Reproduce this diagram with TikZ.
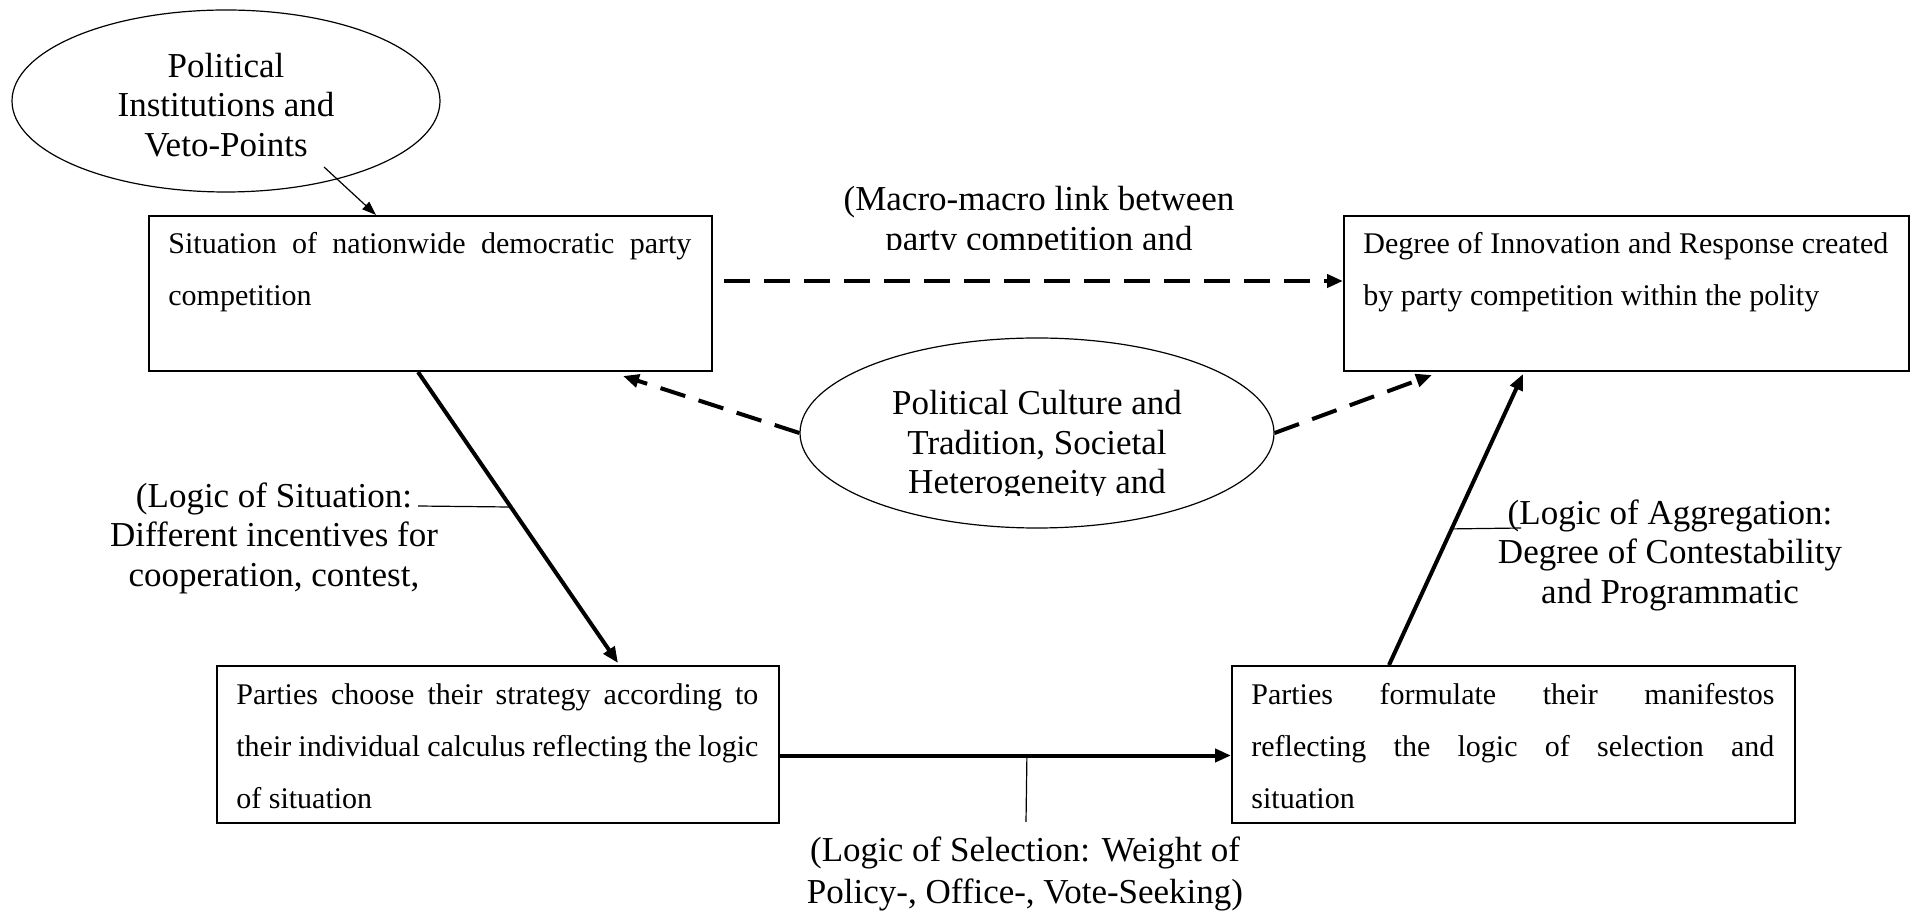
\documentclass[tikz,border=0pt]{standalone}
\usepackage{fontspec}
\setmainfont{Liberation Serif}
\usetikzlibrary{arrows.meta,calc,shapes.geometric}
\tolerance=9999
\hbadness=10000

\tikzset{
  box/.style={draw, line width=1pt, rectangle, inner sep=0pt, anchor=north west},
  boxtext/.style={anchor=north west, inner sep=0pt, text width=#1, align=justify,
    font=\fontsize{15}{26}\selectfont},
  oval/.style={draw, ellipse, line width=0.6pt, inner sep=0pt},
  lbl/.style={align=center, inner sep=0pt, font=\fontsize{17.5}{19.75}\selectfont},
  flow/.style={line width=2pt, -{Triangle[length=8pt,width=6.5pt]}},
  influence/.style={line width=2pt, dash pattern=on 13pt off 7pt,
    -{Triangle[length=8pt,width=6.5pt]}},
  fine/.style={line width=0.6pt},
  pointer/.style={line width=0.6pt, -{Triangle[length=7pt,width=5pt]}},
}

\begin{document}
\begin{tikzpicture}[x=0.5pt, y=-0.5pt]
\fill[white] (0,0) rectangle (1916,913);
\useasboundingbox (0,0) rectangle (1916,913);

% macro level boxes
\node[box, minimum width=281.5pt, minimum height=77.5pt] (b1) at (148,215) {};
\node[box, minimum width=282.5pt, minimum height=77.5pt] (b2) at (1343,215) {};
% micro level boxes
\node[box, minimum width=281pt, minimum height=78.5pt] (b3) at (216,665) {};
\node[box, minimum width=281.5pt, minimum height=78.5pt] (b4) at (1231,665) {};

\node[boxtext=261.5pt] (t1) at ($(b1.north west)+(20,17)$)
  {Situation of nationwide democratic party\linebreak competition};
\node[boxtext=262.5pt] (t2) at ($(b2.north west)+(20,17)$)
  {Degree of Innovation and Response created\linebreak by party competition within the polity};
\node[boxtext=261pt] (t3) at ($(b3.north west)+(20,18)$)
  {Parties choose their strategy according to\linebreak their individual calculus reflecting the logic\linebreak of situation};
\node[boxtext=261.5pt] (t4) at ($(b4.north west)+(20,18)$)
  {Parties formulate their manifestos\linebreak reflecting the logic of selection and\linebreak situation};

% context ellipses
\node[oval, minimum width=214pt, minimum height=91pt] (e1) at (226,101) {};
\node[lbl] (e1txt) at (226,105) {Political\\Institutions and\\Veto-Points};
\node[oval, minimum width=237pt, minimum height=95pt] (e2) at (1037,433) {};
\begin{scope}
  \clip (800,300) rectangle (1280,496);
  \node[lbl] (e2txt) at (1037,446) {Political Culture and\\Tradition, Societal\\Heterogeneity and};
\end{scope}

% link labels
\begin{scope}
  \clip (800,150) rectangle (1300,250);
  \node[lbl] (macro) at (1039,222) {(Macro-macro link between\\party competition and};
\end{scope}
\node[lbl] (sitlbl) at (274,538) {(Logic of Situation:\\Different incentives for\\cooperation, contest,};
\node[lbl] (agglbl) at (1670,555) {(Logic of Aggregation:\\Degree of Contestability\\and Programmatic};
\node[lbl, font=\fontsize{17.5}{20.75}\selectfont] (sellbl) at (1025,874)
  {(Logic of Selection: Weight of\\Policy-, Office-, Vote-Seeking)};

% connector end points
\coordinate (e1tail) at (324,167);
\coordinate (b1a) at ($(b1.north west)+(228,0)$);
\coordinate (b1d) at ($(b1.north east)+(11,66)$);
\coordinate (b2d) at ($(b2.north west)+(0,66)$);
\coordinate (b1u) at ($(b1.south west)+(475,4)$);
\coordinate (b2u) at ($(b2.south west)+(89,3)$);
\coordinate (s1) at ($(b1.south west)+(270,0)$);
\coordinate (s2) at ($(b3.north west)+(402,-2)$);
\coordinate (m1) at ($(b3.east)+(0,11)$);
\coordinate (m2) at ($(b4.west)+(0,11)$);
\coordinate (a1) at ($(b4.north west)+(158,0)$);
\coordinate (a2) at ($(b2.south west)+(180,2)$);
\coordinate (sitend) at (418,506);
\coordinate (aggend) at (1521,528);
\coordinate (selend) at (1026,822);

% arrows
\draw[pointer] (e1tail) -- (b1a);
\draw[influence] (b1d) -- (b2d);
\draw[influence] (e2.west) -- (b1u);
\draw[influence] (e2.east) -- (b2u);
\draw[flow] (s1) -- (s2);
\draw[flow] (m1) -- (m2);
\draw[flow] (a1) -- (a2);

% label leaders
\draw[fine] (sitend) -- ($(s1)!0.464!(s2)$);
\draw[fine] ($(a1)!0.4676!(a2)$) -- (aggend);
\draw[fine] ($(m1)!0.5475!(m2)$) -- (selend);
\end{tikzpicture}
\end{document}
